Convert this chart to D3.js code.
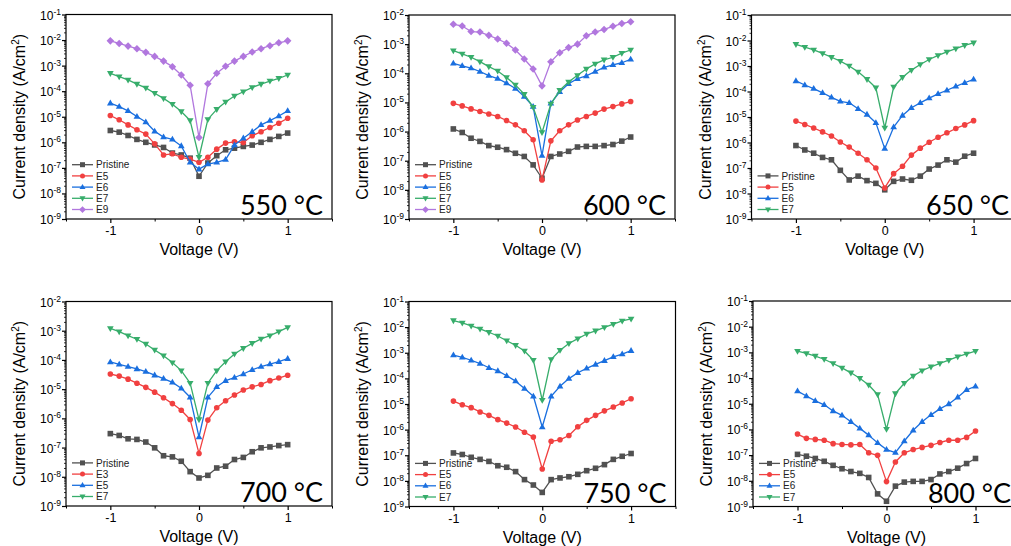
<!DOCTYPE html>
<html><head><meta charset="utf-8">
<script src="https://cdn.jsdelivr.net/npm/d3@7"></script>
<style>
body{margin:0;background:#fff;overflow:hidden}
svg text{font-family:"Liberation Sans", Arial, sans-serif;}
</style></head><body>
<svg id="chart" width="1011" height="546"></svg>
<script>
// ---------------- DATA ----------------
const voltage = [-1,-0.9,-0.8,-0.7,-0.6,-0.5,-0.4,-0.3,-0.2,-0.1,0,0.1,0.2,0.3,0.4,0.5,0.6,0.7,0.8,0.9,1];

const temperatures = ["550 \u00B0C","600 \u00B0C","650 \u00B0C","700 \u00B0C","750 \u00B0C","800 \u00B0C"];

// 550 °C
const t550Labels = ["Pristine","E5","E6","E7","E9"];
const t550Pristine = [2.9e-6,2.5e-6,1.85e-6,1.3e-6,1.0e-6,7.9e-7,6.3e-7,3.8e-7,3.2e-7,2.4e-7,4.7e-8,1.55e-7,3.0e-7,5.1e-7,5.9e-7,6.9e-7,7.8e-7,1.0e-6,1.3e-6,1.7e-6,2.3e-6];
const t550E5 = [1.12e-5,7.6e-6,4.8e-6,3.1e-6,2.1e-6,8.7e-7,3.2e-7,3.55e-7,2.6e-7,2.2e-7,1.65e-7,2.6e-7,5.4e-7,9.3e-7,1.05e-6,9.8e-7,1.8e-6,2.6e-6,3.8e-6,5.6e-6,8.7e-6];
const t550E6 = [3.4e-5,2.5e-5,1.7e-5,1.02e-5,6.2e-6,2.7e-6,1.6e-6,1.3e-6,7.2e-7,1.65e-7,8.9e-8,1.4e-7,1.65e-7,2.1e-7,7.8e-7,1.45e-6,2.6e-6,4.8e-6,7.1e-6,1.07e-5,1.7e-5];
const t550E7 = [5.0e-4,3.7e-4,2.75e-4,1.9e-4,1.35e-4,8.3e-5,5.25e-5,3.1e-5,1.6e-5,7.1e-6,2.6e-7,7.9e-6,1.95e-5,3.8e-5,6.5e-5,9.5e-5,1.4e-4,1.9e-4,2.5e-4,3.2e-4,4.3e-4];
const t550E9 = [9.3e-3,7.4e-3,5.8e-3,4.6e-3,3.3e-3,2.3e-3,1.5e-3,9.1e-4,4.3e-4,1.7e-4,1.55e-6,1.95e-4,5.0e-4,9.5e-4,1.5e-3,2.3e-3,3.4e-3,4.6e-3,6.0e-3,7.8e-3,9.3e-3];

// 600 °C
const t600Labels = ["Pristine","E5","E6","E7","E9"];
const t600Pristine = [1.23e-6,9.3e-7,5.9e-7,4.6e-7,3.3e-7,2.9e-7,2.4e-7,1.8e-7,1.4e-7,7.2e-8,2.5e-8,1.4e-7,1.7e-7,2.1e-7,2.95e-7,3.1e-7,3.1e-7,3.3e-7,3.6e-7,4.7e-7,6.5e-7];
const t600E5 = [9.3e-6,7.6e-6,6.0e-6,4.9e-6,4.0e-6,3.3e-6,2.4e-6,1.7e-6,1.07e-6,5.25e-7,2.2e-8,4.8e-7,1.07e-6,1.7e-6,2.5e-6,3.3e-6,4.3e-6,5.9e-6,7.2e-6,8.9e-6,1.07e-5];
const t600E6 = [2.2e-4,1.8e-4,1.5e-4,1.15e-4,8.3e-5,6.6e-5,4.6e-5,3.0e-5,1.6e-5,7.2e-6,1.5e-7,9.3e-6,2.3e-5,4.4e-5,6.5e-5,8.1e-5,1.15e-4,1.6e-4,1.95e-4,2.3e-4,3.0e-4];
const t600E7 = [6.0e-4,4.6e-4,3.55e-4,2.5e-4,1.7e-4,1.2e-4,7.2e-5,4.0e-5,1.9e-5,6.9e-6,9.3e-7,8.9e-6,2.6e-5,5.0e-5,8.5e-5,1.4e-4,2.1e-4,2.9e-4,3.55e-4,4.9e-4,6.3e-4];
const t600E9 = [4.8e-3,4.2e-3,2.7e-3,2.6e-3,2.0e-3,1.5e-3,1.07e-3,6.3e-4,3.1e-4,1.4e-4,3.7e-5,2.5e-4,5.1e-4,7.6e-4,1.0e-3,1.95e-3,2.6e-3,3.2e-3,4.1e-3,5.1e-3,5.9e-3];

// 650 °C
const t650Labels = ["Pristine","E5","E6","E7"];
const t650Pristine = [7.6e-7,5.1e-7,3.8e-7,2.6e-7,2.1e-7,8.1e-8,3.4e-8,4.8e-8,3.2e-8,2.5e-8,1.4e-8,3.0e-8,3.7e-8,3.3e-8,4.8e-8,9.1e-8,1.3e-7,2.1e-7,1.7e-7,2.9e-7,3.8e-7];
const t650E5 = [6.9e-6,5.1e-6,3.7e-6,2.6e-6,1.8e-6,1.05e-6,6.6e-7,3.8e-7,2.1e-7,1.0e-7,1.65e-8,6.0e-8,1.17e-7,3.2e-7,6.0e-7,1.02e-6,1.6e-6,2.4e-6,3.55e-6,4.9e-6,7.2e-6];
const t650E6 = [2.6e-4,1.8e-4,1.3e-4,8.9e-5,5.9e-5,4.1e-5,3.6e-5,2.1e-5,1.26e-5,5.9e-6,5.75e-7,4.0e-6,1.15e-5,2.3e-5,3.6e-5,5.5e-5,8.1e-5,1.12e-4,1.6e-4,2.2e-4,3.0e-4];
const t650E7 = [7.1e-3,5.5e-3,4.3e-3,3.1e-3,2.2e-3,1.55e-3,1.0e-3,5.9e-4,3.0e-4,1.4e-4,3.7e-6,1.5e-4,3.6e-4,6.9e-4,1.15e-3,1.8e-3,2.6e-3,3.55e-3,4.8e-3,6.5e-3,8.1e-3];

// 700 °C
const t700Labels = ["Pristine","E3","E5","E7"];
const t700Pristine = [3.0e-7,2.6e-7,2.0e-7,1.9e-7,1.55e-7,9.8e-8,5.25e-8,4.8e-8,3.4e-8,1.5e-8,9.1e-9,1.12e-8,2.0e-8,2.3e-8,3.9e-8,4.6e-8,7.2e-8,9.8e-8,1.05e-7,1.17e-7,1.26e-7];
const t700E3 = [3.3e-5,2.8e-5,2.2e-5,1.6e-5,1.15e-5,7.9e-6,5.1e-6,3.2e-6,1.9e-6,9.1e-7,6.3e-8,8.7e-7,2.3e-6,4.0e-6,6.3e-6,9.3e-6,1.2e-5,1.45e-5,1.95e-5,2.4e-5,3.0e-5];
const t700E5 = [8.5e-5,7.1e-5,5.9e-5,4.9e-5,4.0e-5,3.0e-5,2.3e-5,1.7e-5,1.07e-5,5.25e-6,2.3e-7,5.25e-6,1.2e-5,1.95e-5,2.5e-5,3.3e-5,4.6e-5,5.9e-5,7.2e-5,8.7e-5,1.1e-4];
const t700E7 = [1.2e-3,9.3e-4,6.8e-4,5.1e-4,3.5e-4,2.2e-4,1.4e-4,8.1e-5,4.3e-5,1.6e-5,9.1e-7,1.6e-5,4.3e-5,8.7e-5,1.6e-4,2.5e-4,3.7e-4,5.25e-4,6.8e-4,9.3e-4,1.3e-3];

// 750 °C
const t750Labels = ["Pristine","E5","E6","E7"];
const t750Pristine = [1.23e-7,1.07e-7,8.3e-8,6.9e-8,5.75e-8,3.9e-8,3.4e-8,2.3e-8,1.12e-8,6.9e-9,3.55e-9,1.12e-8,1.3e-8,1.45e-8,1.8e-8,2.5e-8,3.1e-8,4.3e-8,6.9e-8,9.1e-8,1.17e-7];
const t750E5 = [1.3e-5,9.3e-6,7.2e-6,4.9e-6,3.6e-6,2.45e-6,1.8e-6,1.26e-6,7.9e-7,5.1e-7,2.9e-8,3.5e-7,4.0e-7,5.9e-7,1.3e-6,2.3e-6,3.6e-6,5.4e-6,7.6e-6,1.1e-5,1.6e-5];
const t750E6 = [8.1e-4,6.6e-4,5.1e-4,3.8e-4,2.6e-4,1.95e-4,1.26e-4,7.8e-5,4.0e-5,2.0e-5,1.26e-6,2.0e-5,4.9e-5,9.8e-5,1.66e-4,2.45e-4,3.5e-4,4.9e-4,6.9e-4,8.9e-4,1.2e-3];
const t750E7 = [1.8e-2,1.45e-2,1.12e-2,8.5e-3,6.3e-3,4.5e-3,2.95e-3,1.95e-3,1.17e-3,5.1e-4,1.4e-5,5.5e-4,1.26e-3,2.3e-3,3.55e-3,5.4e-3,7.2e-3,9.8e-3,1.3e-2,1.75e-2,2.1e-2];

// 800 °C
const t800Labels = ["Pristine","E5","E6","E7"];
const t800Pristine = [1.07e-7,9.1e-8,7.4e-8,5.75e-8,4.0e-8,2.95e-8,2.3e-8,1.95e-8,1.35e-8,3.1e-9,1.6e-9,6.2e-9,8.9e-9,9.5e-9,9.5e-9,1.12e-8,1.85e-8,2.3e-8,3.1e-8,4.7e-8,7.4e-8];
const t800E5 = [6.6e-7,4.5e-7,4.1e-7,3.8e-7,2.8e-7,2.6e-7,2.5e-7,2.6e-7,1.23e-7,9.8e-8,9.3e-9,5.4e-8,1.23e-7,1.65e-7,2.0e-7,2.4e-7,3.1e-7,3.8e-7,3.8e-7,4.9e-7,8.7e-7];
const t800E6 = [3.1e-5,2.0e-5,1.3e-5,9.1e-6,5.25e-6,3.55e-6,2.0e-6,1.1e-6,6.0e-7,3.0e-7,1.65e-7,1.26e-7,3.55e-7,9.3e-7,2.0e-6,3.7e-6,6.3e-6,9.8e-6,1.8e-5,3.5e-5,4.8e-5];
const t800E7 = [1.12e-3,9.1e-4,7.2e-4,5.4e-4,3.7e-4,2.5e-4,1.6e-4,9.8e-5,5.4e-5,2.3e-5,1.02e-6,2.5e-5,6.3e-5,1.2e-4,1.95e-4,2.75e-4,3.7e-4,5.0e-4,6.8e-4,8.7e-4,1.12e-3];

const yTopValues = [1e-1, 1e-2, 1e-1, 1e-2, 1e-1, 1e-1];
const xTickValues = [-1, 0, 1];
const xMinorValues = [-1.5, -0.5, 0.5, 1.5];
const xTickLabels = ["-1", "0", "1"];

// ---------------- ASSEMBLY ----------------
const panels = [
  {labels: t550Labels, series: [t550Pristine, t550E5, t550E6, t550E7, t550E9]},
  {labels: t600Labels, series: [t600Pristine, t600E5, t600E6, t600E7, t600E9]},
  {labels: t650Labels, series: [t650Pristine, t650E5, t650E6, t650E7]},
  {labels: t700Labels, series: [t700Pristine, t700E3, t700E5, t700E7]},
  {labels: t750Labels, series: [t750Pristine, t750E5, t750E6, t750E7]},
  {labels: t800Labels, series: [t800Pristine, t800E5, t800E6, t800E7]}
];

// ---------------- LAYOUT / STYLE ----------------
const layout = [
  {left: 66,    right: 332,   top: 14.5,  bottom: 219},
  {left: 409,   right: 675,   top: 15,    bottom: 219},
  {left: 751.5, right: 1018,  top: 15,    bottom: 219},
  {left: 66,    right: 332,   top: 301.5, bottom: 506},
  {left: 409,   right: 675.5, top: 301.5, bottom: 506.5},
  {left: 753,   right: 1020,  top: 301,   bottom: 506.5}
];
const colors = ["#515151", "#F14040", "#1A6FDF", "#37AD6B", "#B177DE"];
const shapes = ["square", "circle", "triUp", "triDown", "diamond"];

function markerPath(shape, s) {
  const h = s / 2;
  switch (shape) {
    case "square": return `M${-h},${-h}H${h}V${h}H${-h}Z`;
    case "circle": return d3.symbol(d3.symbolCircle, Math.PI * h * h)();
    case "triUp": { const a = s * 1.2, t = a * Math.sqrt(3) / 2; return `M0,${-t*0.62}L${a/2},${t*0.38}L${-a/2},${t*0.38}Z`; }
    case "triDown": { const a = s * 1.2, t = a * Math.sqrt(3) / 2; return `M0,${t*0.62}L${a/2},${-t*0.38}L${-a/2},${-t*0.38}Z`; }
    case "diamond": { const d = h * 1.35; return `M0,${-d}L${d},0L0,${d}L${-d},0Z`; }
  }
}

const svg = d3.select("#chart");
svg.append("rect").attr("width", 1011).attr("height", 546).attr("fill", "#fff");

panels.forEach((p, i) => {
  const L = layout[i];
  const x = d3.scaleLinear().domain([-1.5, 1.5]).range([L.left, L.right]);
  const y = d3.scaleLog().domain([1e-9, yTopValues[i]]).range([L.bottom, L.top]);
  const g = svg.append("g");

  const topExp = Math.round(Math.log10(yTopValues[i]));
  const majors = d3.range(-9, topExp + 1).map(e => Math.pow(10, e));
  const minors = [];
  for (let e = -9; e < topExp; e++) for (let m = 2; m <= 9; m++) minors.push(m * Math.pow(10, e));

  g.append("g").attr("transform", `translate(${L.left},0)`)
    .call(d3.axisLeft(y).tickValues(minors).tickSize(2).tickFormat(""))
    .call(a => a.select(".domain").remove())
    .selectAll("line").attr("stroke", "#000").attr("stroke-width", 0.8);
  g.append("g").attr("transform", `translate(${L.left},0)`)
    .call(d3.axisLeft(y).tickValues(majors).tickSize(4).tickFormat(""))
    .call(a => a.select(".domain").remove())
    .selectAll("line").attr("stroke", "#000").attr("stroke-width", 1.2);

  g.append("g").attr("transform", `translate(0,${L.bottom})`)
    .call(d3.axisBottom(x).tickValues(xMinorValues).tickSize(2.5).tickFormat(""))
    .call(a => a.select(".domain").remove())
    .selectAll("line").attr("stroke", "#000").attr("stroke-width", 1);
  const xa = g.append("g").attr("transform", `translate(0,${L.bottom})`)
    .call(d3.axisBottom(x).tickValues(xTickValues).tickSize(4).tickPadding(3.5)
      .tickFormat((d, k) => xTickLabels[k]))
    .call(a => a.select(".domain").remove());
  xa.selectAll("line").attr("stroke", "#000").attr("stroke-width", 1.2);
  xa.selectAll("text").attr("font-size", 12.5).attr("fill", "#000");

  majors.forEach(v => {
    const e = Math.round(Math.log10(v));
    const t = g.append("text").attr("x", L.left - 5).attr("y", y(v) + 5)
      .attr("text-anchor", "end").attr("fill", "#000");
    t.append("tspan").attr("font-size", 12).text("10");
    t.append("tspan").attr("font-size", 8.5).attr("dy", -5).text(String(e));
  });

  g.append("rect").attr("x", L.left).attr("y", L.top)
    .attr("width", L.right - L.left).attr("height", L.bottom - L.top)
    .attr("fill", "none").attr("stroke", "#000").attr("stroke-width", 1.2);

  g.append("text").attr("x", (L.left + L.right) / 2).attr("y", L.bottom + 36)
    .attr("text-anchor", "middle").attr("font-size", 16).attr("fill", "#000").text("Voltage (V)");
  const yt = g.append("text")
    .attr("transform", `translate(${L.left - 41},${(L.top + L.bottom) / 2}) rotate(-90)`)
    .attr("text-anchor", "middle").attr("font-size", 16).attr("fill", "#000");
  yt.append("tspan").text("Current density (A/cm");
  yt.append("tspan").attr("font-size", 10).attr("dy", -6).text("2");
  yt.append("tspan").attr("dy", 6).text(")");

  const line = d3.line().x((d, k) => x(voltage[k])).y(d => y(d));
  p.series.forEach((vals, j) => {
    g.append("path").datum(vals).attr("d", line)
      .attr("fill", "none").attr("stroke", colors[j]).attr("stroke-width", 1.3)
      .attr("stroke-linejoin", "round");
    g.append("g").selectAll("path").data(vals).join("path")
      .attr("transform", (d, k) => `translate(${x(voltage[k])},${y(d)})`)
      .attr("d", markerPath(shapes[j], 5.6))
      .attr("fill", colors[j]);
  });

  const n = p.labels.length;
  p.labels.forEach((lab, j) => {
    const cy = L.bottom - 9.5 - (n - 1 - j) * 11.2;
    const lx = L.left + 6;
    g.append("line").attr("x1", lx).attr("x2", lx + 21).attr("y1", cy).attr("y2", cy)
      .attr("stroke", colors[j]).attr("stroke-width", 1.3);
    g.append("path").attr("transform", `translate(${lx + 10.5},${cy})`)
      .attr("d", markerPath(shapes[j], 5)).attr("fill", colors[j]);
    g.append("text").attr("x", lx + 24).attr("y", cy + 3.6)
      .attr("font-size", 10).attr("fill", "#222").text(lab);
  });

  g.append("text").attr("x", L.right - 9).attr("y", L.bottom - 4)
    .attr("text-anchor", "end").attr("font-size", 27)
    .style("font-family", "Lato, 'Open Sans', sans-serif").attr("fill", "#000")
    .text(temperatures[i]);
});
</script>
</body></html>
